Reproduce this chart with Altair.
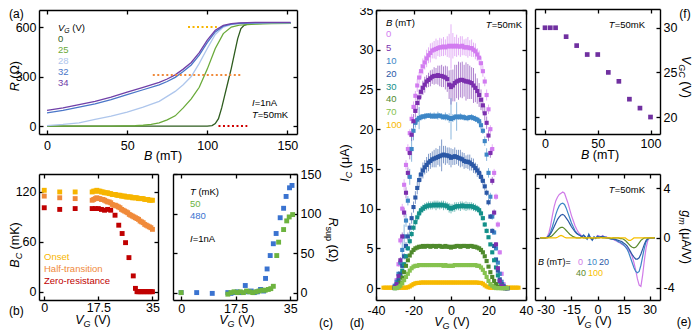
import altair as alt
import pandas as pd

# ======================= DATA =======================
# (a) R vs B for several gate voltages
a_B = [0, 10, 20, 30, 40, 50, 60, 70, 75, 80, 85, 90, 95, 100, 105, 110, 115, 120, 130, 140, 152]
a_R34 = [95, 110, 130, 150, 175, 205, 235, 265, 285, 310, 345, 385, 445, 520, 580, 610, 620, 625, 628, 628, 628]
a_R32 = [80, 95, 115, 135, 160, 190, 220, 250, 270, 295, 330, 370, 430, 505, 570, 605, 618, 622, 625, 626, 626]
a_R28 = [3, 10, 20, 40, 60, 85, 115, 150, 180, 210, 250, 300, 380, 470, 555, 600, 615, 620, 624, 625, 625]
a_B25 = [0, 20, 40, 55, 60, 65, 70, 75, 80, 85, 90, 95, 100, 105, 110, 115, 120, 130, 140, 152]
a_R25 = [0, 0, 0, 2, 5, 10, 20, 38, 62, 110, 165, 235, 345, 470, 560, 600, 612, 618, 620, 622]
a_B0 = [0, 50, 100, 103, 105, 107, 109, 111, 113, 115, 117, 119, 121, 123, 126, 135, 152]
a_R0 = [0, 0, 0, 3, 15, 45, 110, 190, 270, 350, 440, 530, 590, 610, 620, 622, 622]
a_series = ["0", "25", "28", "32", "34"]
a_colors = ["#2e5c1e", "#6aaa3a", "#aec6ec", "#4a76c8", "#7040a8"]
a_mark_B = [[88, 106], [66, 122], [107, 125]]
a_mark_R = [600, 310, 0]
a_mark_colors = ["#f7b500", "#f08a3a", "#d00000"]

# (b) critical fields vs gate voltage
b_VG = [0, 5, 10, 15.5, 16, 16.5, 17, 17.5, 18, 18.5, 19, 19.5, 20, 20.5, 21, 21.5, 22, 22.5, 23, 23.5,
        24, 24.5, 25, 25.5, 26, 26.5, 27, 27.5, 28, 28.5, 29, 29.5, 30, 30.5, 31, 31.5, 32, 32.5, 33, 33.5,
        34, 34.5, 35]
b_onset = [122, 120, 120, 120, 121, 121, 122, 121, 121, 120, 120, 119, 119, 119, 118, 118, 117, 117, 117, 116,
           116, 116, 115, 115, 115, 114, 114, 114, 114, 113, 113, 113, 113, 112, 112, 112, 112, 111, 111, 111,
           110, 110, 110]
b_half = [115, 113, 112, 110, 111, 112, 113, 112, 112, 111, 111, 110, 109, 108, 108, 107, 105, 104, 104, 103,
          102, 101, 99, 98, 97, 96, 95, 93, 92, 91, 90, 89, 88, 87, 85, 84, 83, 81, 80, 79,
          78, 77, 75]
b_VG_zero = [0, 5, 10, 15.5, 16.5, 17.5, 18.5, 19.5, 20.5, 21.5, 22.9, 24.1, 25.2, 26.3, 27.4, 28.8, 29.5,
             30, 30.5, 31, 31.5, 32, 32.5, 33, 33.5, 34, 34.5, 35]
b_zero = [101, 99, 100, 100, 100, 100, 99, 98, 99, 98, 92, 80, 70, 59, 41, 19, 4,
          0, 0, 0, 0, 0, 0, 0, 0, 0, 0, 0]
b_names = ["Zero-resistance", "Half-transition", "Onset"]
b_colors = ["#c00000", "#f08a3a", "#f7b500"]

# (c) R_sup vs gate voltage
c_VG_480 = [0, 5, 10, 15, 16, 17, 18, 19, 20.6, 21.5, 22.5, 23.5, 24.5, 25.5, 26.5, 27.1, 27.6, 28.6, 29.6,
            30.5, 31.8, 32.9, 33.7, 34.8, 35.6]
c_R_480 = [0, 0, -1, 0, -1, 0, 1, 0, 9, 1, 2, 0, 1, 4, 2, 18, 30, 47, 62, 75, 95, 107, 122, 133, 136]
c_VG_50 = [0, 15, 16, 17, 18, 19, 20, 21, 22, 23, 24, 25, 26, 27, 28, 28.8, 29.6, 30.7, 31.3, 32.9, 33.9,
           34.7, 35.8]
c_R_50 = [0, -2, 0, 1, 0, 1, 0, 2, 1, 0, 1, 2, 3, 3, 4, 5, 8, 47, 64, 80, 91, 96, 99]

# (d) critical current vs gate voltage at several fields
d_VG = list(range(-30, 31))
d_I0 = [0.2, 1.0, 3.0, 6.0, 10.0, 13.0, 15.5, 17.5, 19.5, 21.3,
        22.8, 24.2, 25.5, 26.5, 27.3, 27.9, 28.4, 28.9, 29.3, 29.6,
        29.9, 30.0, 30.1, 30.2, 30.3, 30.3, 30.4, 30.3, 30.4, 30.5,
        30.4,
        30.5, 30.4, 30.5, 30.4, 30.4, 30.5, 30.3, 30.3, 30.3, 30.2,
        30.2, 30.0, 29.8, 29.4, 29.0, 28.3, 27.3, 26.0, 24.3, 22.5,
        20.0, 17.5, 14.5, 11.5, 8.0, 4.5, 1.8, 0.5, 0.1, 0.0]
d_E0 = [0.1, 0.2, 0.3, 0.5, 0.6, 0.7, 0.6, 0.6, 0.5, 0.6,
        0.7, 0.6, 0.8, 0.7, 0.9, 1.0, 0.9, 1.1, 1.0, 1.2,
        1.0, 1.1, 1.3, 1.0, 1.2, 1.1, 1.2, 1.0, 1.3, 1.5,
        2.8,
        1.6, 1.2, 1.4, 1.1, 1.3, 1.2, 1.0, 1.1, 1.3, 1.0,
        1.1, 0.9, 1.0, 0.8, 0.9, 0.8, 0.7, 0.6, 0.7, 0.6,
        0.5, 0.6, 0.5, 0.4, 0.4, 0.3, 0.2, 0.1, 0.1, 0.0]
d_I5 = [0.1, 0.5, 1.5, 3.5, 6.5, 9.5, 12.0, 14.5, 17.0, 19.3,
        21.0, 22.3, 23.3, 24.0, 24.7, 25.2, 25.6, 26.0, 26.2, 26.4,
        26.6, 26.7, 26.7, 26.8, 26.7, 26.7, 26.6, 26.5, 26.3, 25.6,
        25.3,
        25.5, 25.8, 26.0, 26.1, 26.2, 26.2, 26.1, 26.0, 26.0, 25.9,
        25.8, 25.5, 25.2, 24.8, 24.3, 23.7, 23.0, 22.0, 20.8, 19.2,
        17.0, 13.5, 9.5, 5.5, 2.5, 0.9, 0.3, 0.1, 0.0, 0.0]
d_E5 = [0.1, 0.2, 0.3, 0.4, 0.5, 0.6, 0.7, 0.7, 0.8, 0.8,
        0.9, 0.8, 0.9, 1.0, 0.8, 0.9, 1.0, 0.8, 0.9, 1.0,
        0.9, 1.1, 1.0, 1.2, 1.3, 1.4, 1.3, 1.5, 1.6, 1.8,
        2.2,
        2.0, 2.3, 2.1, 2.4, 2.2, 2.3, 2.0, 2.4, 2.2, 2.1,
        2.0, 2.2, 1.8, 1.6, 1.5, 1.3, 1.0, 0.9, 0.8, 0.7,
        0.6, 0.5, 0.4, 0.3, 0.2, 0.1, 0.1, 0.0, 0.0, 0.0]
d_I10 = [0.3, 0.8, 1.8, 3.2, 4.8, 6.5, 8.5, 11.0, 14.0, 17.5,
         19.8, 20.8, 21.2, 21.4, 21.5, 21.6, 21.6, 21.7, 21.7, 21.7,
         21.6, 21.7, 21.6, 21.7, 21.7, 21.6, 21.5, 21.6, 21.5, 21.4,
         21.3,
         21.4, 21.5, 21.6, 21.5, 21.6, 21.5, 21.5, 21.4, 21.4, 21.5,
         21.5, 21.4, 21.3, 21.2, 21.0, 20.5, 19.8, 18.5, 16.8, 14.5,
         11.5, 9.0, 7.0, 5.0, 3.2, 1.8, 0.8, 0.3, 0.1, 0.0]
d_E10 = [0.1, 0.2, 0.3, 0.5, 1.2, 1.5, 0.8, 0.6, 1.0, 1.6,
         1.2, 0.6, 0.5, 1.4, 0.4, 0.3, 0.4, 0.3, 0.3, 0.4,
         0.3, 0.4, 0.3, 0.5, 0.3, 0.4, 0.3, 0.5, 0.4, 0.6,
         2.6,
         0.5, 0.4, 1.8, 0.3, 0.4, 0.3, 0.4, 0.3, 0.4, 0.3,
         0.4, 0.3, 0.4, 0.3, 0.4, 0.5, 0.4, 0.6, 0.8, 0.6,
         0.5, 0.4, 0.3, 0.3, 0.2, 0.1, 0.1, 0.0, 0.0, 0.0]
d_I20 = [0.1, 0.4, 1.0, 1.8, 2.8, 4.0, 5.3, 6.5, 7.6, 8.8,
         10.2, 11.4, 12.6, 13.6, 14.3, 14.8, 15.2, 15.5, 15.8, 16.0,
         16.2, 16.3, 16.4, 16.5, 16.6, 16.7, 16.8, 16.7, 16.7, 16.6,
         16.4,
         16.5, 16.6, 16.5, 16.4, 16.3, 16.2, 16.0, 15.9, 15.9, 15.8,
         15.6, 15.4, 15.1, 14.8, 14.5, 14.0, 13.5, 12.8, 12.0, 10.8,
         9.0, 7.2, 5.3, 3.6, 2.2, 1.1, 0.5, 0.2, 0.0, 0.0]
d_E20 = [0.1, 0.1, 0.2, 0.3, 0.3, 0.4, 0.5, 0.5, 0.6, 0.7,
         0.7, 0.8, 0.8, 0.9, 0.9, 1.0, 0.9, 1.0, 1.1, 1.0,
         1.0, 1.1, 1.2, 1.0, 1.3, 2.0, 1.1, 1.2, 1.0, 1.1,
         1.2,
         1.0, 1.1, 0.9, 1.0, 1.1, 0.9, 1.0, 0.8, 0.9, 1.0,
         0.8, 0.9, 0.7, 0.8, 0.7, 0.6, 0.5, 0.5, 0.4, 0.4,
         0.3, 0.3, 0.2, 0.2, 0.1, 0.1, 0.0, 0.0, 0.0, 0.0]
d_I30 = [0.0, 0.2, 0.6, 1.4, 2.2, 3.0, 4.0, 5.0, 5.9, 6.8,
         7.6, 8.3, 8.9, 9.4, 9.8, 10.0, 10.2, 10.3, 10.4, 10.4,
         10.4, 10.5, 10.4, 10.5, 10.4, 10.5, 10.4, 10.4, 10.3, 10.1,
         10.0,
         10.1, 10.2, 10.3, 10.3, 10.3, 10.4, 10.3, 10.3, 10.3, 10.3,
         10.3, 10.2, 10.1, 10.0, 9.8, 9.4, 8.8, 8.0, 7.2, 6.4,
         5.5, 4.5, 3.5, 2.6, 1.6, 0.8, 0.3, 0.1, 0.0, 0.0]
d_E30 = [0.0, 0.1, 0.1, 0.2, 0.2, 0.3, 0.3, 0.3, 0.4, 0.4,
         0.4, 0.4, 0.5, 0.5, 0.5, 0.5, 0.5, 0.5, 0.5, 0.5,
         0.5, 0.5, 0.6, 0.5, 0.5, 0.5, 0.6, 0.5, 0.5, 0.6,
         0.6,
         0.5, 0.6, 0.5, 0.5, 0.6, 0.5, 0.5, 0.6, 0.5, 0.5,
         0.5, 0.5, 0.5, 0.4, 0.4, 0.4, 0.3, 0.3, 0.3, 0.2,
         0.2, 0.2, 0.1, 0.1, 0.1, 0.0, 0.0, 0.0, 0.0, 0.0]
d_I40 = [0.0, 0.1, 0.3, 0.7, 1.3, 2.0, 2.8, 3.5, 4.1, 4.5,
         4.8, 5.0, 5.1, 5.2, 5.2, 5.3, 5.2, 5.3, 5.3, 5.2,
         5.3, 5.3, 5.2, 5.3, 5.3, 5.2, 5.2, 5.3, 5.2, 5.2,
         5.1,
         5.2, 5.2, 5.3, 5.3, 5.2, 5.3, 5.3, 5.3, 5.2, 5.3,
         5.3, 5.2, 5.2, 5.1, 5.0, 4.8, 4.5, 4.0, 3.4, 2.7,
         2.0, 1.4, 0.9, 0.5, 0.2, 0.1, 0.0, 0.0, 0.0, 0.0]
d_I70 = [0.0, 0.0, 0.1, 0.3, 0.6, 1.0, 1.4, 1.8, 2.2, 2.5,
         2.7, 2.8, 2.8, 2.9, 2.9, 2.9, 2.9, 2.9, 2.9, 2.9,
         2.9, 2.9, 2.9, 2.9, 2.9, 2.9, 2.8, 2.9, 2.8, 2.8,
         2.8,
         2.8, 2.9, 2.9, 2.9, 2.9, 2.9, 2.9, 2.9, 2.9, 2.9,
         2.9, 2.9, 2.9, 2.8, 2.8, 2.6, 2.3, 1.9, 1.4, 0.9,
         0.5, 0.3, 0.1, 0.0, 0.0, 0.0, 0.0, 0.0, 0.0, 0.0]
d_VG100 = list(range(-36, 37))
d_I100 = [0.05, 0.05, 0.05, 0.05, 0.05, 0.05, 0.05, 0.05, 0.05, 0.05, 0.05, 0.05, 0.05,
          0.1, 0.2, 0.35, 0.5, 0.6,
          0.65, 0.65, 0.7, 0.7, 0.7, 0.7, 0.7, 0.7, 0.7, 0.7, 0.7, 0.7, 0.7, 0.7, 0.7, 0.7, 0.7, 0.7,
          0.7, 0.7, 0.7, 0.7, 0.7, 0.7, 0.7, 0.7, 0.7, 0.7, 0.7, 0.7, 0.7, 0.7, 0.7, 0.65, 0.65,
          0.55, 0.35, 0.2, 0.1,
          0.05, 0.05, 0.05, 0.05, 0.05, 0.05, 0.05, 0.05, 0.05, 0.05, 0.05, 0.05, 0.05, 0.05, 0.05, 0.05]
d_names = ["0", "5", "10", "20", "30", "40", "70", "100"]
d_colors = ["#d27cf0", "#7b2fae", "#3d86c6", "#2b58a6", "#14908a", "#4f8a2c", "#86c24f", "#f7b900"]

# (e) transconductance
e_VG = list(range(-33, 34))
e_g0 = [0, 0, 0, 0, 0.1, 0.4, 1.0, 1.8, 2.5, 3.0, 3.3, 3.5, 3.6, 3.7,
        3.6, 3.2, 2.8, 2.3, 1.8, 1.4, 1.0, 0.7, 0.45, 0.3,
        0.15, 0.2, 0.05, -0.1, 0.1, -0.05, -0.15, 0.05, 0.0, 0.2,
        0.15, 0.1, 0.2, 0.05, 0.1, 0.0, -0.05, -0.1, -0.1, -0.2,
        -0.25, -0.35, -0.4, -0.5, -0.6, -0.7, -0.8, -1.0, -1.2, -1.5,
        -2.0, -2.6, -3.3, -3.8, -3.9, -3.0, -1.8, -0.8, -0.2, 0, 0, 0, 0]
e_g10 = [0, 0, 0, 0, 0.05, 0.2, 0.5, 0.9, 1.4, 1.9, 2.3, 2.6, 2.75, 2.8,
         2.7, 2.4, 2.0, 1.6, 1.2, 0.9, 0.6, 0.4, 0.3, 0.2,
         0.1, 0.25, 0.1, -0.1, 0.3, 0.0, -0.2, 0.1, -0.05, 0.15,
         0.1, 0.05, 0.15, 0.1, 0.05, 0.0, -0.05, -0.1, -0.1, -0.15,
         -0.2, -0.3, -0.35, -0.45, -0.55, -0.7, -0.9, -1.2, -1.6, -2.0,
         -2.4, -2.7, -2.8, -2.7, -2.2, -1.5, -0.8, -0.3, -0.1, 0, 0, 0, 0]
e_g20 = [0, 0, 0, 0, 0.05, 0.15, 0.35, 0.6, 0.9, 1.2, 1.5, 1.7, 1.85, 1.9,
         1.8, 1.6, 1.4, 1.15, 0.9, 0.7, 0.5, 0.35, 0.25, 0.2,
         0.1, 0.2, 0.05, -0.05, 0.25, 0.0, -0.15, 0.05, 0.0, 0.1,
         0.05, 0.1, 0.1, 0.05, 0.0, 0.0, -0.05, -0.05, -0.1, -0.1,
         -0.15, -0.2, -0.25, -0.3, -0.4, -0.5, -0.65, -0.85, -1.1, -1.35,
         -1.55, -1.7, -1.7, -1.6, -1.3, -0.9, -0.5, -0.2, -0.05, 0, 0, 0, 0]
e_g40 = [0, 0, 0, 0, 0, 0.05, 0.1, 0.2, 0.35, 0.5, 0.65, 0.78, 0.85, 0.85,
         0.75, 0.6, 0.45, 0.3, 0.2, 0.1, 0.05, 0.0, 0.0, 0.0,
         0.05, 0.0, 0.0, -0.05, 0.05, 0.0, -0.05, 0.0, 0.0, 0.0,
         0.0, 0.05, 0.0, 0.0, 0.0, 0.0, 0.0, -0.05, 0.0, 0.0,
         0.0, 0.0, -0.05, -0.05, -0.1, -0.2, -0.35, -0.5, -0.65, -0.75,
         -0.8, -0.75, -0.6, -0.4, -0.2, -0.08, 0, 0, 0, 0, 0, 0, 0]
e_g100 = [0, 0, 0, 0, 0, 0, 0, 0, 0, 0, 0.05, 0.15, 0.2, 0.15,
          0.05, 0, 0, 0, 0, 0, 0, 0, 0, 0,
          0, 0, 0, 0, 0, 0, 0, 0, 0, 0,
          0, 0, 0, 0, 0, 0, 0, 0, 0, 0,
          0, 0, 0, 0, 0, 0, -0.1, -0.2, -0.2, -0.1,
          0, 0, 0, 0, 0, 0, 0, 0, 0, 0, 0, 0, 0]
e_names = ["0", "10", "20", "40", "100"]
e_colors = ["#d07be8", "#3d86c6", "#2b58a6", "#5c8a2e", "#f7c000"]

# (f) critical gate voltage vs field
f_B = [0, 5, 10, 20, 30, 40, 50, 60, 70, 80, 90, 100]
f_VGC = [30, 30, 30, 29, 28, 27, 27, 25, 24, 22, 21, 20]

# ======================= LAYOUT =======================
FONT = "Liberation Sans"
W, H = 684, 322
OFF = 8
PANELS = {
    "a": dict(xd=[-5, 156], yd=[-48, 703], L=39, R=297, T=10, B=134, lp=5),
    "b": dict(xd=[-1.7, 36.8], yd=[-10, 141.6], L=39, R=158, T=174, B=300, lp=1),
    "c": dict(xd=[-2.6, 37.2], yd=[-9.4, 150.5], L=173, R=297, T=174, B=300, lp=2),
    "d": dict(xd=[-40, 40], yd=[-1.5, 35], L=376, R=526, T=10, B=300, lp=4),
    "f": dict(xd=[-9.5, 109], yd=[18.1, 32.1], L=535, R=660, T=9, B=134, lp=3),
    "e": dict(xd=[-36, 36], yd=[-5, 5.15], L=535, R=660, T=174, B=300, lp=3),
}


def scales(k):
    p = PANELS[k]
    sx = alt.Scale(domain=p["xd"], range=[p["L"] - OFF, p["R"] - OFF], nice=False, zero=False)
    sy = alt.Scale(domain=p["yd"], range=[p["B"] - OFF, p["T"] - OFF], nice=False, zero=False)
    return sx, sy


BASE = dict(grid=False, domainColor="black", tickColor="black", labelColor="black", labelFont=FONT,
            labelFontSize=12.5, domainWidth=1.4, tickWidth=1.3, tickSize=4, labelFlush=False,
            labelOverlap=False, title="", format=".1~f",
            labelExpr="replace(datum.label, '\u2212', '-')")


def ax(orient, off, labels, ticks, domain, vals, **kw):
    d = dict(BASE)
    d.update(orient=orient, offset=off, labels=labels, ticks=ticks, domain=domain, values=vals)
    d.update(kw)
    return alt.Axis(**d)


def frame(k, xv, yv, yside):
    p = PANELS[k]
    sx, sy = scales(k)
    L, R, T, B = (p[s] - OFF for s in "LRTB")
    df = pd.DataFrame({"x": [p["xd"][0]], "y": [p["yd"][0]]})
    xa = [ax("bottom", B - H, True, False, True, xv, labelPadding=p["lp"]),
          ax("top", -B, False, True, False, xv),
          ax("bottom", T - H, False, True, True, xv)]
    if yside == "left":
        ya = [ax("left", -L, True, False, True, yv, labelPadding=3),
              ax("right", L - W, False, True, False, yv),
              ax("left", -R, False, True, True, yv)]
    else:
        ya = [ax("right", R - W, True, False, True, yv, labelPadding=3),
              ax("left", -R, False, True, False, yv),
              ax("right", L - W, False, True, True, yv)]
    return [alt.Chart(df).mark_point(opacity=0).encode(
        x=alt.X("x:Q", scale=sx, axis=a1), y=alt.Y("y:Q", scale=sy, axis=a2))
        for a1, a2 in zip(xa, ya)]


ONE = pd.DataFrame({"k": [0]})


def T(t, x, y, size=9.5, color="black", align="left", italic=False, angle=0):
    props = dict(font=FONT, fontSize=size, align=align, baseline="middle", color=color)
    if italic:
        props["fontStyle"] = "italic"
    if angle:
        props["angle"] = angle
    return alt.Chart(ONE).mark_text(**props).encode(
        x=alt.value(x - OFF), y=alt.value(y - OFF), text=alt.value(t))


CW = {" ": .278, "(": .333, ")": .333, "=": .584, ".": .278, "-": .333, "/": .278, "μ": .576, "Ω": .768,
      "A": .667, "B": .667, "C": .722, "G": .778, "I": .278, "K": .667, "R": .722, "T": .611, "V": .667,
      "a": .556, "c": .5, "e": .556, "m": .833, "n": .556, "p": .556, "s": .5, "t": .278, "u": .556,
      "g": .556}


def tw(s, fs):
    return sum(CW.get(ch, .556) for ch in s) * fs


def rich(segs, x, y, size, color="black", anchor="middle", angle=0):
    items = []
    for s, st in segs:
        fs = size * 0.72 if "s" in st else size
        items.append((s, st, fs, tw(s, fs)))
    total = sum(i[3] for i in items)
    pos = {"start": 0, "middle": -total / 2, "end": -total}[anchor]
    adv = {0: (1, 0), 270: (0, -1), 90: (0, 1)}[angle]
    dn = {0: (0, 1), 270: (1, 0), 90: (-1, 0)}[angle]
    out = []
    for s, st, fs, w in items:
        if s.strip():
            sh = size * 0.3 if "s" in st else 0
            px = x + adv[0] * pos + dn[0] * sh
            py = y + adv[1] * pos + dn[1] * sh
            out.append(T(s, px, py, fs, color, "left", "i" in st, angle))
        pos += w
    return out


layers = []

# ---------------- panel (a) ----------------
sx, sy = scales("a")
rows = []
for name, Bs, Rs in [("0", a_B0, a_R0), ("25", a_B25, a_R25), ("28", a_B, a_R28),
                     ("32", a_B, a_R32), ("34", a_B, a_R34)]:
    rows += [{"B": b, "R": r, "s": name} for b, r in zip(Bs, Rs)]
dfa = pd.DataFrame(rows)
layers.append(alt.Chart(dfa).mark_line(strokeWidth=1.3).encode(
    x=alt.X("B:Q", scale=sx, axis=None), y=alt.Y("R:Q", scale=sy, axis=None),
    color=alt.Color("s:N", scale=alt.Scale(domain=a_series, range=a_colors), legend=None),
    order=alt.Order("B:Q")))
rows = []
for i, (bb, rr) in enumerate(zip(a_mark_B, a_mark_R)):
    rows += [{"B": bb[0], "R": rr, "s": str(i)}, {"B": bb[1], "R": rr, "s": str(i)}]
layers.append(alt.Chart(pd.DataFrame(rows)).mark_line(strokeWidth=2, strokeDash=[2, 2.5]).encode(
    x=alt.X("B:Q", scale=sx, axis=None), y=alt.Y("R:Q", scale=sy, axis=None),
    color=alt.Color("s:N", scale=alt.Scale(domain=["0", "1", "2"], range=a_mark_colors), legend=None)))
layers += frame("a", [0, 50, 100, 150], [0, 300, 600], "left")

# ---------------- panel (b) ----------------
sx, sy = scales("b")
dfb = pd.concat([
    pd.DataFrame({"VG": b_VG_zero, "Bc": b_zero, "s": "Zero-resistance"}),
    pd.DataFrame({"VG": b_VG, "Bc": b_half, "s": "Half-transition"}),
    pd.DataFrame({"VG": b_VG, "Bc": b_onset, "s": "Onset"})])
layers.append(alt.Chart(dfb).mark_square(size=24, opacity=1).encode(
    x=alt.X("VG:Q", scale=sx, axis=None), y=alt.Y("Bc:Q", scale=sy, axis=None),
    color=alt.Color("s:N", scale=alt.Scale(domain=b_names, range=b_colors), legend=None)))
layers += frame("b", [0, 17.5, 35], [0, 60, 120], "left")

# ---------------- panel (c) ----------------
sx, sy = scales("c")
dfc = pd.concat([pd.DataFrame({"VG": c_VG_480, "R": c_R_480, "s": "480"}),
                 pd.DataFrame({"VG": c_VG_50, "R": c_R_50, "s": "50"})])
layers.append(alt.Chart(dfc).mark_square(size=24, opacity=1).encode(
    x=alt.X("VG:Q", scale=sx, axis=None), y=alt.Y("R:Q", scale=sy, axis=None),
    color=alt.Color("s:N", scale=alt.Scale(domain=["50", "480"], range=["#6db33f", "#3a73d0"]), legend=None)))
layers += frame("c", [0, 17.5, 35], [0, 50, 100, 150], "right")

# ---------------- panel (d) ----------------
sx, sy = scales("d")
rows = []
zero_err = [0.0] * len(d_VG)
for name, Is, Es in [("0", d_I0, d_E0), ("5", d_I5, d_E5), ("10", d_I10, d_E10), ("20", d_I20, d_E20),
                     ("30", d_I30, d_E30), ("40", d_I40, zero_err), ("70", d_I70, zero_err)]:
    for v, i_, e_ in zip(d_VG, Is, Es):
        rows.append({"VG": v, "I": i_, "lo": i_ - e_, "hi": i_ + e_, "s": name})
for v, i_ in zip(d_VG100, d_I100):
    rows.append({"VG": v, "I": i_, "lo": i_, "hi": i_, "s": "100"})
dfd = pd.DataFrame(rows)
dcol = alt.Color("s:N", scale=alt.Scale(domain=d_names, range=d_colors), legend=None)
layers.append(alt.Chart(dfd).mark_rule(strokeWidth=0.8, opacity=0.75).encode(
    x=alt.X("VG:Q", scale=sx, axis=None), y=alt.Y("lo:Q", scale=sy, axis=None), y2="hi:Q", color=dcol))
layers.append(alt.Chart(dfd).mark_square(size=17, opacity=1).encode(
    x=alt.X("VG:Q", scale=sx, axis=None), y=alt.Y("I:Q", scale=sy, axis=None), color=dcol,
    order=alt.Order("s:N")))
layers += frame("d", [-40, -20, 0, 20, 40], [0, 5, 10, 15, 20, 25, 30, 35], "left")

# ---------------- panel (f) ----------------
sx, sy = scales("f")
layers.append(alt.Chart(pd.DataFrame({"B": f_B, "V": f_VGC})).mark_square(size=22, opacity=1, color="#7030a0").encode(
    x=alt.X("B:Q", scale=sx, axis=None), y=alt.Y("V:Q", scale=sy, axis=None)))
layers += frame("f", [0, 50, 100], [20, 25, 30], "right")

# ---------------- panel (e) ----------------
sx, sy = scales("e")
rows = []
for name, gs in [("0", e_g0), ("10", e_g10), ("20", e_g20), ("40", e_g40), ("100", e_g100)]:
    rows += [{"VG": v, "g": g, "s": name} for v, g in zip(e_VG, gs)]
layers.append(alt.Chart(pd.DataFrame(rows)).mark_line(strokeWidth=1.2).encode(
    x=alt.X("VG:Q", scale=sx, axis=None), y=alt.Y("g:Q", scale=sy, axis=None),
    color=alt.Color("s:N", scale=alt.Scale(domain=e_names, range=e_colors), legend=None),
    order=alt.Order("VG:Q")))
layers += frame("e", [-30, -15, 0, 15, 30], [-4, 0, 4], "right")

# ---------------- texts ----------------
TS = 12.5  # axis title size
LS = 9.5   # legend text size
VG_T = [("V", "i"), ("G", "si"), (" ", "n"), ("(V)", "n")]
B_T = [("B", "i"), (" ", "n"), ("(mT)", "n")]
T50 = [("T", "i"), ("=50mK", "n")]
I1 = [("I", "i"), ("=1nA", "n")]

# (a)
layers += rich([("R", "i"), (" ", "n"), ("(Ω)", "n")], 15, 76, TS, angle=270)
layers += rich(B_T, 163, 156, TS)
layers += rich(VG_T, 58, 28, LS, anchor="start")
for lab, col, yy in zip(a_series, a_colors, [39, 50, 61, 72, 83]):
    layers.append(T(lab, 58, yy, LS, col))
layers += rich(I1, 252, 103, LS, anchor="start")
layers += rich(T50, 252, 115, LS, anchor="start")
layers.append(T("(a)", 9, 14, 12))
# (b)
layers += rich([("B", "i"), ("C", "si"), (" ", "n"), ("(mK)", "n")], 15, 245, TS, angle=270)
layers += rich(VG_T, 93, 320, TS)
for lab, col, yy in zip(["Onset", "Half-transition", "Zero-resistance"],
                        ["#f7b500", "#f08a3a", "#c00000"], [257, 269, 281]):
    layers.append(T(lab, 44, yy, LS, col))
layers.append(T("(b)", 9, 311, 12))
# (c)
layers += rich(VG_T, 237, 320, TS)
layers += rich([("R", "i"), ("sup", "s"), (" ", "n"), ("(Ω)", "n")], 333, 240, TS, angle=90)
layers += rich([("T", "i"), (" ", "n"), ("(mK)", "n")], 190, 192, LS, anchor="start")
layers.append(T("50", 190, 204, LS, "#6db33f"))
layers.append(T("480", 190, 216, LS, "#3a73d0"))
layers += rich(I1, 190, 239, LS, anchor="start")
layers.append(T("(c)", 326, 323, 12, align="center"))
# (d)
layers += rich([("I", "i"), ("C", "si"), (" ", "n"), ("(μA)", "n")], 345, 163, TS, angle=270)
layers += rich(VG_T, 452, 322, TS)
layers += rich(B_T, 386, 23, LS, anchor="start")
for lab, col, yy in zip(d_names, d_colors, [34, 48, 61, 74, 87, 99, 112, 125]):
    layers.append(T(lab, 386, yy, LS, col))
layers += rich(T50, 522, 25, LS, anchor="end")
layers.append(T("(d)", 357, 323, 12, align="center"))
# (f)
layers += rich(T50, 645, 25, LS, anchor="end")
layers += rich(B_T, 600, 155, TS)
layers += rich([("V", "i"), ("GC", "si"), (" ", "n"), ("(V)", "n")], 686, 77, TS, angle=90)
layers.append(T("(f)", 685, 14, 12, align="center"))
# (e)
layers += rich(T50, 645, 190, LS, anchor="end")
layers += rich(VG_T, 594, 321, TS)
layers += rich([("g", "i"), ("m", "si"), (" ", "n"), ("(μA/V)", "n")], 686, 237, TS, angle=90)
layers.append(T("(e)", 684, 322, 12, align="center"))
layers += rich([("B", "i"), (" ", "n"), ("(mT)=", "n")], 538, 262, 9, anchor="start")
for lab, col, xx, yy in [("0", e_colors[0], 578, 262), ("10", e_colors[1], 587, 262),
                         ("20", e_colors[2], 599, 262), ("40", e_colors[3], 576, 273),
                         ("100", e_colors[4], 588, 273)]:
    layers.append(T(lab, xx, yy, 9, col))

chart = alt.layer(*layers).resolve_scale(
    x="independent", y="independent", color="independent"
).resolve_axis(x="independent", y="independent").properties(
    width=W, height=H, autosize=alt.AutoSizeParams(type="none"), padding=0
).configure_view(strokeWidth=0)

chart.save("out.html", embed_options={"renderer": "svg", "actions": False})
